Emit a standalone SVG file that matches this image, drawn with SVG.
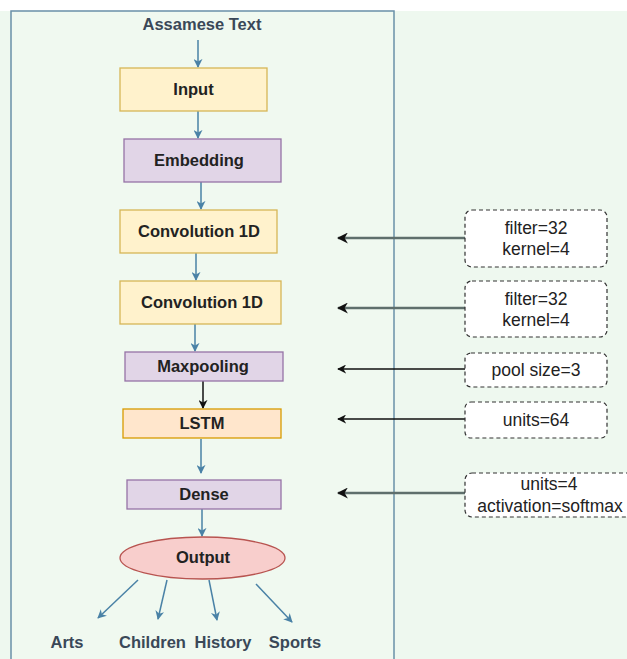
<svg xmlns="http://www.w3.org/2000/svg" width="627" height="659" viewBox="0 0 627 659">
<defs>
<style>
.node text, .lbl { font-family: "Liberation Sans", Arial, sans-serif; font-weight: bold; text-anchor: middle; dominant-baseline: central; }
.node text { font-size: 16.5px; fill: #222222; }
.yel { fill: #fff2cc; stroke: #d6b656; stroke-width: 1.3; }
.pur { fill: #e1d5e7; stroke: #9673a6; stroke-width: 1.3; }
.org { fill: #ffe6cc; stroke: #d79b00; stroke-width: 1.3; }
.red { fill: #f8cecc; stroke: #b85450; stroke-width: 1.3; }
.param rect { fill: #ffffff; stroke: #333333; stroke-width: 1.2; stroke-dasharray: 4 3; }
.param text { font-size: 17.5px; fill: #222222; font-weight: normal; }
.lbl { font-size: 16.5px; fill: #3a4858; }
.blue { stroke: #4a82a6; stroke-width: 1.5; fill: none; marker-end: url(#ab); }
.blk { stroke: #111111; stroke-width: 1.5; fill: none; marker-end: url(#ak); }
.gry { stroke: #5f6f6c; stroke-width: 2.5; fill: none; marker-end: url(#ag); }
</style>
<marker id="ab" viewBox="0 0 10 10" refX="9" refY="5" markerWidth="9" markerHeight="9" orient="auto" markerUnits="userSpaceOnUse">
<path d="M0,0 L10,5 L0,10 L3,5 Z" fill="#4a82a6"/>
</marker>
<marker id="ak" viewBox="0 0 10 10" refX="9" refY="5" markerWidth="9" markerHeight="9" orient="auto" markerUnits="userSpaceOnUse">
<path d="M0,0 L10,5 L0,10 L3,5 Z" fill="#111111"/>
</marker>
<marker id="ag" viewBox="0 0 10 10" refX="9" refY="5" markerWidth="11" markerHeight="11" orient="auto" markerUnits="userSpaceOnUse">
<path d="M0,0 L10,5 L0,10 L3,5 Z" fill="#111111"/>
</marker>
</defs>
<rect x="0" y="0" width="627" height="659" fill="#ffffff"/>
<rect x="0" y="11" width="627" height="648" fill="#eef8ef"/>
<rect id="panel" x="11" y="11" width="383" height="660" fill="#f0f9f0" stroke="#6a90a8" stroke-width="1.5"/>

<text class="lbl" x="202" y="24">Assamese Text</text>

<g id="connectors">
<line class="blue" x1="198" y1="40" x2="198" y2="67"/>
<line class="blue" x1="198" y1="111" x2="198" y2="138"/>
<line class="blue" x1="201" y1="182" x2="201" y2="209"/>
<line class="blue" x1="196" y1="253" x2="196" y2="280"/>
<line class="blue" x1="195" y1="324" x2="195" y2="351"/>
<line class="blk" x1="203" y1="381" x2="203" y2="408"/>
<line class="blue" x1="201" y1="439" x2="201" y2="473"/>
<line class="blue" x1="202" y1="509" x2="202" y2="536"/>
<line class="blue" x1="138" y1="580" x2="98" y2="618"/>
<line class="blue" x1="167" y1="580" x2="158" y2="619"/>
<line class="blue" x1="209" y1="580" x2="217" y2="620"/>
<line class="blue" x1="256" y1="584" x2="292" y2="622"/>
<line class="gry" x1="465" y1="238" x2="338" y2="238"/>
<line class="gry" x1="465" y1="308" x2="338" y2="308"/>
<line class="blk" x1="465" y1="369" x2="338" y2="369"/>
<line class="blk" x1="465" y1="419" x2="338" y2="419"/>
<line class="gry" x1="465" y1="493" x2="338" y2="493"/>
</g>

<g id="input" class="node"><rect class="yel" x="120" y="68" width="147" height="43"/><text x="193.5" y="89">Input</text></g>
<g id="embedding" class="node"><rect class="pur" x="124" y="139" width="157" height="43"/><text x="199" y="160">Embedding</text></g>
<g id="conv1" class="node"><rect class="yel" x="120" y="210" width="157" height="43"/><text x="199" y="231">Convolution 1D</text></g>
<g id="conv2" class="node"><rect class="yel" x="120" y="281" width="161" height="43"/><text x="202" y="302">Convolution 1D</text></g>
<g id="maxpool" class="node"><rect class="pur" x="125" y="352" width="158" height="29"/><text x="203" y="366">Maxpooling</text></g>
<g id="lstm" class="node"><rect class="org" x="123" y="409" width="158" height="29"/><text x="202" y="423">LSTM</text></g>
<g id="dense" class="node"><rect class="pur" x="127" y="480" width="154" height="29"/><text x="204" y="494">Dense</text></g>
<g id="output" class="node"><ellipse class="red" cx="202.5" cy="558" rx="82.5" ry="21"/><text x="203" y="557">Output</text></g>

<g id="arts"><text class="lbl" x="67" y="642">Arts</text></g>
<g id="children"><text class="lbl" x="152.5" y="642">Children</text></g>
<g id="history"><text class="lbl" x="223" y="642">History</text></g>
<g id="sports"><text class="lbl" x="295" y="642">Sports</text></g>

<g id="p-conv1" class="node param"><rect x="465" y="210" width="142" height="57" rx="7"/><text x="536" y="228">filter=32</text><text x="536" y="249">kernel=4</text></g>
<g id="p-conv2" class="node param"><rect x="465" y="281" width="142" height="56" rx="7"/><text x="536" y="299">filter=32</text><text x="536" y="320">kernel=4</text></g>
<g id="p-pool" class="node param"><rect x="465" y="353" width="142" height="34" rx="6"/><text x="536" y="370">pool size=3</text></g>
<g id="p-lstm" class="node param"><rect x="465" y="402" width="142" height="36" rx="6"/><text x="536" y="420">units=64</text></g>
<g id="p-dense" class="node param"><rect x="465" y="473" width="170" height="44" rx="7"/><text x="549" y="484">units=4</text><text x="550" y="506">activation=softmax</text></g>
</svg>
